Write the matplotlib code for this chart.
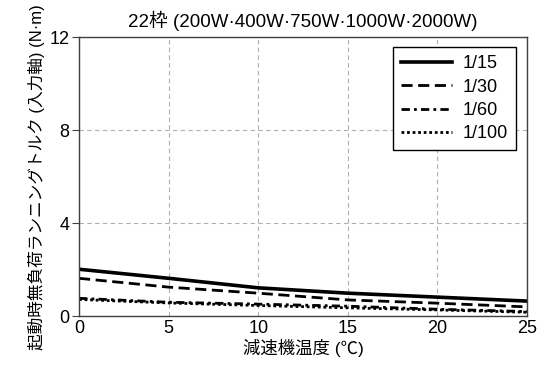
import matplotlib
matplotlib.use('Agg')
import matplotlib.pyplot as plt

plt.rcParams['font.family'] = ['Liberation Sans', 'Noto Sans CJK JP']

# 減速機温度 [℃]
temp = [0, 5, 10, 15, 20, 25]

# 減速比ごとの無負荷ランニングトルク [N·m]
torque_15 = [2.02, 1.63, 1.22, 0.99, 0.82, 0.65]
torque_30 = [1.63, 1.25, 0.99, 0.70, 0.56, 0.40]
torque_60 = [0.77, 0.60, 0.52, 0.43, 0.30, 0.20]
torque_100 = [0.72, 0.57, 0.46, 0.36, 0.27, 0.17]

labels = ['1/15', '1/30', '1/60', '1/100']

fig = plt.figure(figsize=(5.49, 3.72), dpi=100)
ax = fig.add_axes([0.144, 0.150, 0.816, 0.750])

ax.plot(temp, torque_15, color='black', lw=2.6, ls='-', label=labels[0])
ax.plot(temp, torque_30, color='black', lw=2.0, ls=(0, (4, 2)), label=labels[1])
ax.plot(temp, torque_60, color='black', lw=2.0, ls=(0, (3, 1.5, 1, 1.5)), label=labels[2])
ax.plot(temp, torque_100, color='black', lw=2.0, ls=(0, (1, 1)), label=labels[3])

ax.set_xlim(0, 25)
ax.set_ylim(0, 12)
ax.set_xticks([0, 5, 10, 15, 20, 25])
ax.set_yticks([0, 4, 8, 12])
ax.grid(True, ls=(0, (4, 3)), color='#b0b0b0', lw=0.8)
for s in ax.spines.values():
    s.set_color('#404040')
    s.set_linewidth(1.0)
ax.tick_params(axis='both', labelsize=13, length=5, color='#404040', pad=2)
ax.tick_params(axis='x', length=0, pad=3)

ax.set_title('22枠 (200W·400W·750W·1000W·2000W)', fontsize=13.5, pad=7)
ax.set_xlabel('減速機温度 (℃)', fontsize=12.5, labelpad=1)
ax.set_ylabel('起動時無負荷ランニングトルク (入力軸) (N·m)', fontsize=12, labelpad=3)

leg = ax.legend(loc='upper right', fontsize=13, fancybox=False, framealpha=1,
                edgecolor='black', handlelength=2.8, borderpad=0.45,
                labelspacing=0.35, handletextpad=0.6, borderaxespad=0,
                bbox_to_anchor=(0.975, 0.964))
leg.get_frame().set_linewidth(1.0)

fig.savefig('out.png', dpi=100)
